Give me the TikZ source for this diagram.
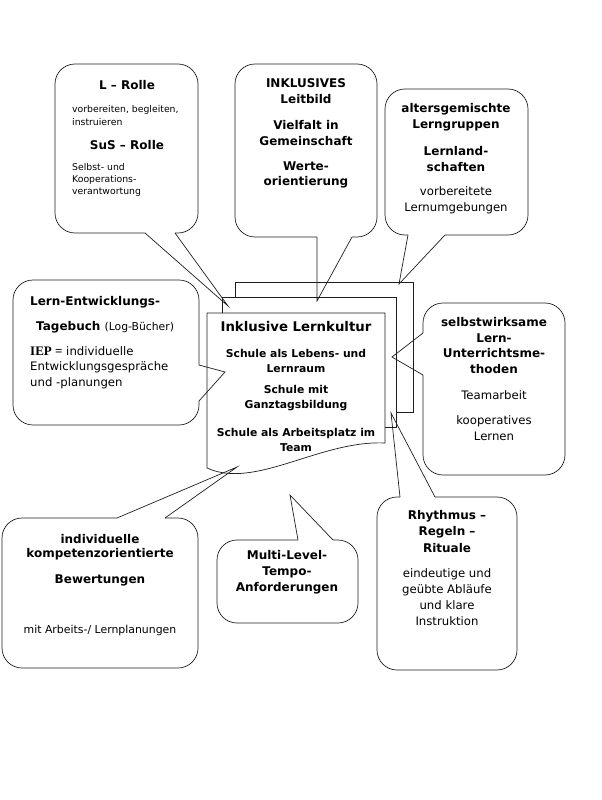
\documentclass[tikz,border=0pt]{standalone}
\usepackage{fontspec}
\setmainfont{DejaVu Sans}
\newfontfamily\iepfont{Liberation Serif}
\usepackage{xcolor}
\usepackage{tikz}
\definecolor{ink}{HTML}{1E1E1E}
\tikzset{
  bubble/.style={draw=ink, line width=0.7pt, rounded corners=20pt},
  tail/.style={draw=ink, line width=0.7pt, line join=miter},
  sheet/.style={draw=ink, line width=0.7pt, fill=white},
  ttl/.style={inner sep=0pt, align=center, font=\fontsize{12}{15.8}\selectfont\bfseries},
  doct/.style={inner sep=0pt, align=center, font=\fontsize{10.8}{15}\selectfont\bfseries},
  txt/.style={inner sep=0pt, align=center, font=\fontsize{11.7}{15.7}\selectfont},
  smalltxt/.style={inner sep=0pt, align=left, font=\fontsize{9.3}{12.2}\selectfont},
}

\begin{document}
\begin{tikzpicture}[x=1pt, y=-1pt]
  \useasboundingbox (0,0) rectangle (602,800);

  % stacked sheets in the middle
  \draw[sheet] (235,282) rectangle (413,412);
  \draw[sheet] (222,297) rectangle (396,427);
  \draw[sheet] (207,313) -- (385,313) -- (385,443)
    .. controls (320,440) and (255,490) .. (207,468) -- cycle;

  \node[font=\fontsize{13.3}{16}\selectfont\bfseries] (kultur) at (296,327) {Inklusive Lernkultur};
  \node[doct] (lebensraum) at (296,360.5) {Schule als Lebens- und\\Lernraum};
  \node[doct] (ganztag) at (296,398.5) {Schule mit\\Ganztagsbildung};
  \node[doct] (team) at (296,440) {Schule als Arbeitsplatz im\\Team};

  % tips of the bubbles
  \coordinate (tipRolle) at (228,306);
  \coordinate (tipLeit) at (317,301);
  \coordinate (tipGrp) at (399,284);
  \coordinate (tipTage) at (225,372);
  \coordinate (tipMeth) at (392,357);
  \coordinate (tipBew) at (237,467);
  \coordinate (tipMulti) at (290,495);
  \coordinate (tipRhy) at (391,413);

  % L - Rolle
  \draw[bubble] (175,233) -- (198,233) -- (198,64) -- (55,64) -- (55,233) -- (145,233);
  \draw[tail] (145,233) -- (tipRolle) -- (175,233);
  \node[ttl] (lrolle) at (127,85) {L – Rolle};
  \node[smalltxt, anchor=west] (lrolletxt) at (72,115.5) {vorbereiten, begleiten,\\instruieren};
  \node[ttl] (susrolle) at (127,145) {SuS – Rolle};
  \node[smalltxt, anchor=west] (susrolletxt) at (72,180) {Selbst- und\\Kooperations-\\verantwortung};

  % Leitbild
  \draw[bubble] (352,237) -- (377,237) -- (377,64) -- (235,64) -- (235,237) -- (317,237);
  \draw[tail] (317,237) -- (tipLeit) -- (352,237);
  \node[ttl] (leitbild) at (306,91.5) {INKLUSIVES\\Leitbild};
  \node[ttl] (vielfalt) at (306,133) {Vielfalt in\\Gemeinschaft};
  \node[ttl] (werte) at (306,175) {Werte-\\orientierung};

  % Lerngruppen
  \draw[bubble] (445,235) -- (528,235) -- (528,89) -- (385,89) -- (385,235) -- (408,235);
  \draw[tail] (408,235) -- (tipGrp) -- (445,235);
  \node[ttl] (gruppen) at (456,117) {altersgemischte\\Lerngruppen};
  \node[ttl] (landschaft) at (456,159) {Lernland-\\schaften};
  \node[txt] (umgebung) at (456,200.5) {vorbereitete\\Lernumgebungen};

  % Tagebuch
  \draw[bubble] (199,365) -- (199,280) -- (13,280) -- (13,425) -- (199,425) -- (199,401);
  \draw[tail] (199,365) -- (tipTage) -- (199,401);
  \node[ttl, anchor=west] (entw) at (30,302) {Lern-Entwicklungs-};
  \node[ttl, anchor=west] (tagebuch) at (36,327)
    {Tagebuch {\fontsize{10.8}{13}\selectfont\mdseries(Log-Bücher)}};
  \node[txt, align=left, anchor=west] (iep) at (30,367.5)
    {{\iepfont\fontsize{13}{15}\selectfont\bfseries IEP =} individuelle\\Entwicklungsgespräche\\und -planungen};

  % Methoden
  \draw[bubble] (423,333) -- (423,303) -- (565,303) -- (565,475) -- (423,475) -- (423,375);
  \draw[tail] (423,333) -- (tipMeth) -- (423,375);
  \node[ttl] (methoden) at (494,345.5) {selbstwirksame\\Lern-\\Unterrichtsme-\\thoden};
  \node[txt] (teamarbeit) at (494,395) {Teamarbeit};
  \node[txt] (koop) at (494,428) {kooperatives\\Lernen};

  % Bewertungen
  \draw[bubble] (117,518) -- (2,518) -- (2,668) -- (198,668) -- (198,518) -- (165,518);
  \draw[tail] (117,518) -- (tipBew) -- (165,518);
  \node[ttl, font=\fontsize{12}{14.2}\selectfont\bfseries] (kompetenz) at (100,547) {individuelle\\kompetenzorientierte};
  \node[ttl] (bewertung) at (100,580) {Bewertungen};
  \node[txt, font=\fontsize{10.9}{13}\selectfont] (planung) at (100,630) {mit Arbeits-/ Lernplanungen};

  % Multi-Level
  \draw[bubble] (298,540) -- (217,540) -- (217,623) -- (358,623) -- (358,540) -- (333,540);
  \draw[tail] (298,540) -- (tipMulti) -- (333,540);
  \node[ttl] (multi) at (287,572.5) {Multi-Level-\\Tempo-\\Anforderungen};

  % Rhythmus
  \draw[bubble] (400,497) -- (377,497) -- (377,670) -- (517,670) -- (517,497) -- (435,497);
  \draw[tail] (400,497) -- (tipRhy) -- (435,497);
  \node[ttl, font=\fontsize{12}{16.5}\selectfont\bfseries] (rhythmus) at (447,531.5) {Rhythmus –\\Regeln –\\Rituale};
  \node[txt, font=\fontsize{11.7}{16}\selectfont] (ablauf) at (447,597) {eindeutige und\\geübte Abläufe\\und klare\\Instruktion};
\end{tikzpicture}
\end{document}
